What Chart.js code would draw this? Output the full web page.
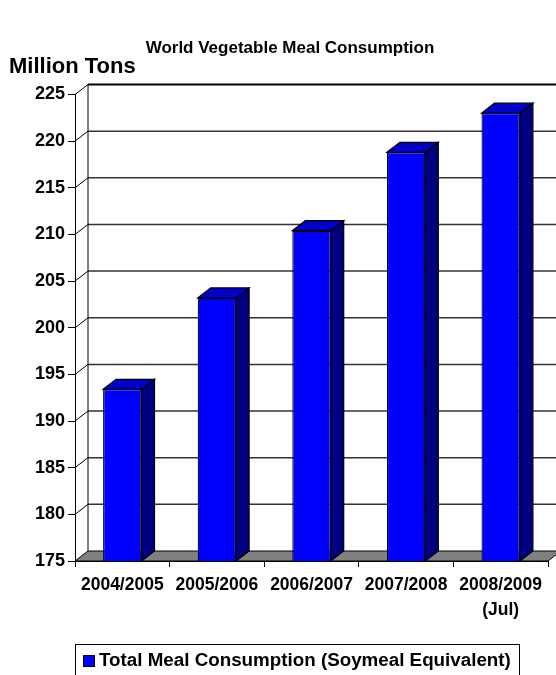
<!DOCTYPE html>
<html>
<head>
<meta charset="utf-8">
<script src="https://cdn.jsdelivr.net/npm/chart.js@4"></script>
<style>
  html, body { margin: 0; padding: 0; background: #ffffff; }
  #wrap { width: 556px; height: 675px; }
</style>
</head>
<body>
<div id="wrap"><canvas id="c" width="556" height="675"></canvas></div>
<script>
// ---- Data ----
const categories = ['2004/2005', '2005/2006', '2006/2007', '2007/2008', ['2008/2009', '(Jul)']];
const values = [193.4, 203.2, 210.4, 218.8, 223.0];
const seriesName = 'Total Meal Consumption (Soymeal Equivalent)';
const chartTitle = 'World Vegetable Meal Consumption';
const yAxisTitle = 'Million Tons';
const yMin = 175, yMax = 225, yStep = 5;

const FONT = '"Liberation Sans", Arial, sans-serif';
const DX = 13, DY = 10; // 3D depth offset

const threeD = {
  id: 'threeD',
  beforeDatasetsDraw(chart) {
    const ctx = chart.ctx;
    const a = chart.chartArea;
    const ys = chart.scales.y;
    ctx.save();
    ys.ticks.forEach(t => {
      const y = ys.getPixelForValue(t.value);
      if (t.value === yMin) return;
      ctx.beginPath();
      ctx.strokeStyle = t.value === yMax ? '#000000' : '#333333';
      ctx.lineWidth = t.value === yMax ? 2 : 1.5;
      ctx.moveTo(a.left + DX, y - DY);
      ctx.lineTo(chart.width + 10, y - DY);
      ctx.stroke();
      ctx.beginPath();
      ctx.strokeStyle = '#000000';
      ctx.lineWidth = 1;
      ctx.moveTo(a.left, y);
      ctx.lineTo(a.left + DX, y - DY);
      ctx.stroke();
    });
    ctx.beginPath();
    ctx.strokeStyle = '#000000';
    ctx.lineWidth = 1;
    ctx.moveTo(a.left + DX, ys.getPixelForValue(yMax) - DY);
    ctx.lineTo(a.left + DX, a.bottom - DY);
    ctx.stroke();
    // floor
    ctx.beginPath();
    ctx.moveTo(a.left, a.bottom);
    ctx.lineTo(a.right, a.bottom);
    ctx.lineTo(a.right + DX, a.bottom - DY);
    ctx.lineTo(a.left + DX, a.bottom - DY);
    ctx.closePath();
    ctx.fillStyle = '#808080';
    ctx.fill();
    ctx.strokeStyle = '#000000';
    ctx.lineWidth = 1;
    ctx.stroke();
    ctx.restore();
  },
  afterDatasetsDraw(chart) {
    const ctx = chart.ctx;
    const meta = chart.getDatasetMeta(0);
    const bot = chart.scales.y.getPixelForValue(yMin);
    ctx.save();
    ctx.strokeStyle = '#000000';
    ctx.lineWidth = 1.2;
    meta.data.forEach(bar => {
      const l = bar.x - bar.width / 2, r = bar.x + bar.width / 2, top = bar.y;
      ctx.beginPath();
      ctx.moveTo(r, top);
      ctx.lineTo(r + DX, top - DY);
      ctx.lineTo(r + DX, bot - DY);
      ctx.lineTo(r, bot);
      ctx.closePath();
      ctx.fillStyle = '#000080';
      ctx.fill();
      ctx.stroke();
      ctx.beginPath();
      ctx.moveTo(l, top);
      ctx.lineTo(l + DX, top - DY);
      ctx.lineTo(r + DX, top - DY);
      ctx.lineTo(r, top);
      ctx.closePath();
      ctx.fillStyle = '#0000C8';
      ctx.fill();
      ctx.stroke();
    });
    ctx.restore();
  },
  afterDraw(chart) {
    const ctx = chart.ctx;
    ctx.save();
    ctx.fillStyle = '#000000';
    ctx.font = 'bold 17px ' + FONT;
    ctx.textAlign = 'center';
    ctx.textBaseline = 'middle';
    ctx.fillText(chartTitle, 290, 48);
    ctx.font = 'bold 22px ' + FONT;
    ctx.textAlign = 'left';
    ctx.fillText(yAxisTitle, 9, 67);
    // legend
    ctx.strokeStyle = '#000000';
    ctx.lineWidth = 1;
    ctx.strokeRect(75.5, 644.5, 444, 40);
    ctx.fillStyle = '#0000FF';
    ctx.fillRect(83, 655, 11, 11);
    ctx.strokeRect(83.5, 655.5, 11, 11);
    ctx.fillStyle = '#000000';
    ctx.font = 'bold 18.8px ' + FONT;
    ctx.textBaseline = 'middle';
    ctx.fillText(seriesName, 99, 661);
    ctx.restore();
  }
};

new Chart(document.getElementById('c'), {
  type: 'bar',
  data: {
    labels: categories,
    datasets: [{
      label: seriesName,
      data: values,
      backgroundColor: '#0000FF',
      borderColor: '#000000',
      borderWidth: 1.2,
      categoryPercentage: 1.0,
      barPercentage: 0.406
    }]
  },
  options: {
    responsive: false,
    animation: false,
    devicePixelRatio: 1,
    layout: { padding: { top: 94.5, right: 8, left: 0, bottom: 0 } },
    plugins: {
      legend: { display: false },
      title: { display: false },
      tooltip: { enabled: false }
    },
    scales: {
      x: {
        grid: { display: true, drawOnChartArea: false, drawTicks: true, tickLength: 6, color: '#000000', offset: true },
        border: { display: true, color: '#000000', width: 1 },
        ticks: { color: '#000000', font: { family: FONT, size: 17.5, weight: 'bold', lineHeight: 1.4 }, padding: 6, maxRotation: 0, autoSkip: false },
        afterFit(scale) { scale.height = 114; }
      },
      y: {
        min: yMin,
        max: yMax,
        grid: { display: true, drawOnChartArea: false, drawTicks: true, tickLength: 7, color: '#000000' },
        border: { display: true, color: '#000000', width: 1 },
        ticks: { stepSize: yStep, color: '#000000', font: { family: FONT, size: 18, weight: 'bold' }, padding: 3 },
        afterFit(scale) { scale.width = 75; }
      }
    }
  },
  plugins: [threeD]
});
</script>
</body>
</html>
